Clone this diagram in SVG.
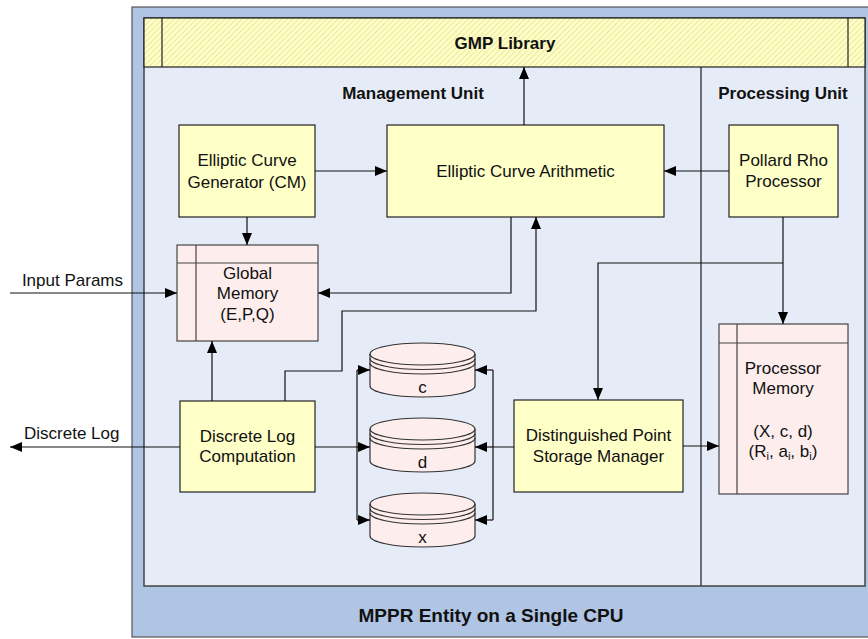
<svg xmlns="http://www.w3.org/2000/svg" width="868" height="639" viewBox="0 0 868 639">
  <style>
    .lbl { font-family: "Liberation Sans", Arial, sans-serif; font-size: 17px; fill: #111; text-anchor: middle; }
    .ttl { font-family: "Liberation Sans", Arial, sans-serif; font-size: 17px; font-weight: bold; fill: #111; text-anchor: middle; }
    .proc { fill: #FFFFC8; stroke: #222; stroke-width: 1.2; }
    .mem { fill: #FDEDED; stroke: #444; stroke-width: 1.2; }
    .memline { fill: none; stroke: #444; stroke-width: 1.2; }
    .cyl { fill: #FDEDED; stroke: #333; stroke-width: 1.2; }
    .cylline { fill: none; stroke: #333; stroke-width: 1.2; }
    .wire { fill: none; stroke: #111; stroke-width: 1.2; }
    .arrow { fill: none; stroke: #111; stroke-width: 1.2; marker-end: url(#head); }
  </style>
  <defs>
    <marker id="head" viewBox="0 0 12 10" refX="12" refY="5" markerWidth="12" markerHeight="10" markerUnits="userSpaceOnUse" orient="auto">
      <path d="M0,0 L12,5 L0,10 Z" fill="#000"/>
    </marker>
    <pattern id="hatch" width="4" height="4" patternUnits="userSpaceOnUse" patternTransform="rotate(45)">
      <rect width="4" height="4" fill="#FFFFC2"/>
      <line x1="0" y1="0" x2="0" y2="4" stroke="#D9D9A6" stroke-width="1.3"/>
    </pattern>
  </defs>

  <!-- host entity frame -->
  <g id="entity">
    <rect x="132" y="7" width="740" height="630" fill="#B0C4E4" stroke="#555" stroke-width="1.2"/>
    <rect x="144" y="18" width="721" height="568" fill="#E6ECF7" stroke="#3a3a3a" stroke-width="1.4"/>
    <line x1="701" y1="67" x2="701" y2="586" stroke="#3a3a3a" stroke-width="1.4"/>
    <text class="ttl" x="491" y="622" style="font-size:19px">MPPR Entity on a Single CPU</text>
    <text class="ttl" x="413" y="99">Management Unit</text>
    <text class="ttl" x="783" y="99">Processing Unit</text>
  </g>

  <g id="gmp-library">
    <rect x="144" y="18" width="721" height="49" fill="url(#hatch)" stroke="#222" stroke-width="1.2"/>
    <line x1="162" y1="18" x2="162" y2="67" stroke="#222" stroke-width="1.2"/>
    <line x1="848" y1="18" x2="848" y2="67" stroke="#222" stroke-width="1.2"/>
    <text class="ttl" x="505" y="49">GMP Library</text>
  </g>

  <g id="ec-generator">
    <rect class="proc" x="179" y="125" width="136" height="92"/>
    <text class="lbl" x="247" y="166">Elliptic Curve</text>
    <text class="lbl" x="247" y="188">Generator (CM)</text>
  </g>

  <g id="ec-arithmetic">
    <rect class="proc" x="387" y="125" width="277" height="92"/>
    <text class="lbl" x="525.5" y="177">Elliptic Curve Arithmetic</text>
  </g>

  <g id="pollard-rho">
    <rect class="proc" x="729" y="125" width="109" height="92"/>
    <text class="lbl" x="783.5" y="166">Pollard Rho</text>
    <text class="lbl" x="783.5" y="187">Processor</text>
  </g>

  <g id="global-memory">
    <rect class="mem" x="177" y="245" width="141" height="96"/>
    <path class="memline" d="M196,245 V341 M177,263 H318"/>
    <text class="lbl" x="247.5" y="279">Global</text>
    <text class="lbl" x="247.5" y="299">Memory</text>
    <text class="lbl" x="247.5" y="320">(E,P,Q)</text>
  </g>

  <g id="discrete-log">
    <rect class="proc" x="180" y="401" width="135" height="91"/>
    <text class="lbl" x="247.5" y="442">Discrete Log</text>
    <text class="lbl" x="247.5" y="462">Computation</text>
  </g>

  <g id="dp-storage-manager">
    <rect class="proc" x="514" y="400" width="169" height="92"/>
    <text class="lbl" x="598.5" y="441">Distinguished Point</text>
    <text class="lbl" x="598.5" y="462">Storage Manager</text>
  </g>

  <g id="processor-memory">
    <rect class="mem" x="719" y="324" width="129" height="170"/>
    <path class="memline" d="M737,324 V494 M719,343 H848"/>
    <text class="lbl" x="783" y="374">Processor</text>
    <text class="lbl" x="783" y="394">Memory</text>
    <text class="lbl" x="783" y="437">(X, c, d)</text>
    <text class="lbl" x="783" y="457">(R<tspan dy="3" style="font-size:11px">i</tspan><tspan dy="-3">, a</tspan><tspan dy="3" style="font-size:11px">i</tspan><tspan dy="-3">, b</tspan><tspan dy="3" style="font-size:11px">i</tspan><tspan dy="-3">)</tspan></text>
  </g>

  <!-- point stores: each drum is a cylinder with two extra rim lines -->
  <g id="store-c">
    <path class="cyl" d="M370,354 A52.5,11 0 0 1 475,354 V386 A52.5,11 0 0 1 370,386 Z"/>
    <path class="cylline" d="M370,354 A52.5,11 0 0 0 475,354 M370,358.5 A52.5,11 0 0 0 475,358.5 M370,363 A52.5,11 0 0 0 475,363"/>
    <text class="lbl" x="422.5" y="393">c</text>
  </g>
  <g id="store-d">
    <path class="cyl" d="M370,429 A52.5,11 0 0 1 475,429 V461 A52.5,11 0 0 1 370,461 Z"/>
    <path class="cylline" d="M370,429 A52.5,11 0 0 0 475,429 M370,433.5 A52.5,11 0 0 0 475,433.5 M370,438 A52.5,11 0 0 0 475,438"/>
    <text class="lbl" x="422.5" y="468">d</text>
  </g>
  <g id="store-x">
    <path class="cyl" d="M370,504 A52.5,11 0 0 1 475,504 V536 A52.5,11 0 0 1 370,536 Z"/>
    <path class="cylline" d="M370,504 A52.5,11 0 0 0 475,504 M370,508.5 A52.5,11 0 0 0 475,508.5 M370,513 A52.5,11 0 0 0 475,513"/>
    <text class="lbl" x="422.5" y="543">x</text>
  </g>

  <g id="connectors">
    <path class="arrow" d="M524,125 V67"/>
    <path class="arrow" d="M315,171 H387"/>
    <path class="arrow" d="M729,171 H664"/>
    <path class="arrow" d="M247,217 V245"/>
    <path class="arrow" d="M10,293 H177"/>
    <path class="arrow" d="M511,217 V293 H318"/>
    <path class="arrow" d="M285,401 V371 H342 V311 H536 V217"/>
    <path class="arrow" d="M212,401 V341"/>
    <path class="arrow" d="M180,447 H10"/>
    <path class="arrow" d="M783,217 V324"/>
    <path class="arrow" d="M783,263 H598 V400"/>
    <path class="arrow" d="M683,446 H719"/>
    <!-- left bus: computation to the stores -->
    <path class="wire" d="M315,447 H357 M357,370 V520"/>
    <path class="arrow" d="M357,370 H370"/>
    <path class="arrow" d="M357,447 H370"/>
    <path class="arrow" d="M357,520 H370"/>
    <!-- right bus: storage manager to the stores -->
    <path class="wire" d="M514,447 H493 M493,370 V520"/>
    <path class="arrow" d="M493,370 H475"/>
    <path class="arrow" d="M493,447 H475"/>
    <path class="arrow" d="M493,520 H475"/>
    <text class="lbl" x="123" y="286" style="text-anchor:end">Input Params</text>
    <text class="lbl" x="24" y="439" style="text-anchor:start">Discrete Log</text>
  </g>
</svg>
